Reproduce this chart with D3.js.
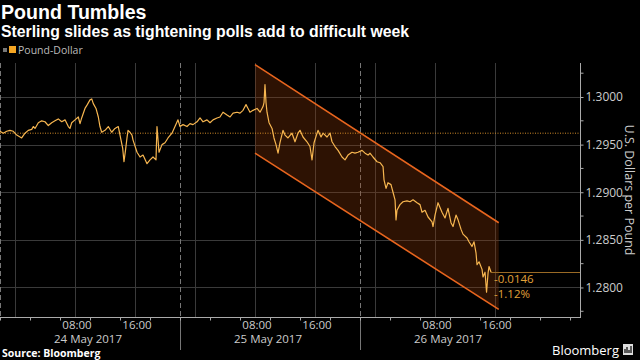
<!DOCTYPE html>
<html><head><meta charset="utf-8">
<script src="https://cdn.jsdelivr.net/npm/d3@7"></script>
<style>
html,body{margin:0;padding:0;background:#000;}
svg{display:block;}
text{font-family:"Open Sans",sans-serif;}
</style></head>
<body>
<script>
// ---- data ----
const title = "Pound Tumbles";
const subtitle = "Sterling slides as tightening polls add to difficult week";
const seriesName = "Pound-Dollar";
const axisTitle = "U.S. Dollars per Pound";
const source = "Source: Bloomberg";
// hours since 24 May 2017 00:00
const hours = [-2.00,-1.56,-1.11,-0.67,-0.23,0.23,0.67,0.89,1.33,1.77,2.23,2.44,2.67,3.11,3.56,4.00,4.44,4.89,5.33,5.77,
6.23,6.67,7.11,7.33,7.56,8.00,8.44,8.67,8.89,9.33,9.64,10.00,10.23,10.44,10.80,11.11,11.33,11.56,12.00,12.44,
12.89,13.33,13.77,14.00,14.36,14.53,14.73,14.93,15.07,15.33,15.60,15.73,16.27,16.67,17.07,17.60,18.00,18.40,18.80,18.93,
19.20,19.60,20.00,20.40,20.93,21.33,21.73,22.00,22.40,22.93,23.33,23.73,24.27,24.67,25.07,25.60,26.00,26.40,26.93,27.33,
27.73,28.27,28.67,29.07,29.60,30.00,30.40,30.80,31.07,31.33,31.73,32.27,32.67,33.07,33.20,33.33,33.47,33.60,33.87,34.27,
34.53,34.80,35.07,35.33,35.73,36.00,36.40,36.93,37.33,37.73,38.00,38.40,38.93,39.33,39.60,39.87,40.27,40.40,40.80,41.07,
41.60,42.00,42.27,42.67,43.07,43.60,44.00,44.40,44.93,45.33,45.73,46.27,46.67,47.07,47.33,47.73,48.27,48.67,49.07,49.20,
49.47,49.73,50.13,50.40,50.67,50.80,50.93,51.33,51.73,52.27,52.67,53.07,53.60,54.00,54.27,54.67,55.07,55.60,55.73,56.00,
56.40,56.93,57.33,57.73,58.13,58.40,58.80,59.07,59.47,59.73,60.27,60.53,60.93,61.20,61.47,61.60,61.87,62.27,62.40,62.67,
62.87,63.07,63.20,63.47];
const prices = [1.2964,1.2962,1.2964,1.2965,1.2964,1.2960,1.2958,1.2957,1.2962,1.2965,1.2966,1.2969,1.2967,1.2973,1.2975,1.2974,1.2970,1.2973,1.2975,1.2977,
1.2974,1.2976,1.2969,1.2967,1.2973,1.2976,1.2979,1.2972,1.2978,1.2988,1.2992,1.2997,1.2998,1.2993,1.2988,1.2979,1.2969,1.2963,1.2965,1.2969,
1.2963,1.2967,1.2969,1.2960,1.2946,1.2932,1.2944,1.2957,1.2965,1.2963,1.2960,1.2955,1.2942,1.2937,1.2939,1.2930,1.2934,1.2937,1.2934,1.2969,
1.2942,1.2950,1.2952,1.2957,1.2962,1.2969,1.2976,1.2969,1.2971,1.2969,1.2972,1.2971,1.2974,1.2978,1.2974,1.2976,1.2973,1.2976,1.2978,1.2979,
1.2984,1.2981,1.2979,1.2983,1.2984,1.2983,1.2986,1.2992,1.2988,1.2984,1.2986,1.2988,1.2984,1.2990,1.2994,1.3013,1.2994,1.2984,1.2973,1.2967,
1.2957,1.2950,1.2941,1.2952,1.2965,1.2960,1.2957,1.2962,1.2953,1.2962,1.2965,1.2958,1.2953,1.2948,1.2934,1.2952,1.2962,1.2965,1.2958,1.2962,
1.2958,1.2962,1.2953,1.2948,1.2944,1.2937,1.2934,1.2939,1.2942,1.2941,1.2942,1.2944,1.2941,1.2939,1.2941,1.2937,1.2932,1.2931,1.2927,1.2913,
1.2904,1.2910,1.2908,1.2900,1.2892,1.2871,1.2881,1.2887,1.2890,1.2891,1.2890,1.2892,1.2889,1.2887,1.2879,1.2881,1.2874,1.2869,1.2864,1.2876,
1.2889,1.2879,1.2873,1.2883,1.2868,1.2864,1.2876,1.2871,1.2861,1.2856,1.2852,1.2848,1.2843,1.2848,1.2836,1.2824,1.2827,1.2819,1.2811,1.2816,
1.2795,1.2815,1.2822,1.2816];
const refPrice = 1.2962;          // dotted reference line
const changeLabels = ["-0.0146", "-1.12%"];
const yTicks = [1.2800, 1.2850, 1.2900, 1.2950, 1.3000];
const yMinorTicks = [1.2775, 1.2825, 1.2875, 1.2925, 1.2975, 1.3025];
const timeLabelHours = [8, 16, 32, 40, 56, 64];
const gridHours = [0, 8, 16, 24, 32, 40, 48, 56, 64];
const tickHours = [-2,2,6,10,14,18,22,26,30,34,38,42,46,50,54,58,62,66,70,74];
const daySeparatorHours = [-2, 22, 46];
const dayLabels = ["24 May 2017", "25 May 2017", "26 May 2017"];
const dayLabelHours = [10, 34, 58];
// trend channel: [startHour, endHour], upper & lower line values
const channelHours = [32, 64.5];
const channelUpper = [1.3034, 1.2868];
const channelLower = [1.2941, 1.2777];

// ---- chart ----
const W = 640, H = 360;
const base = new Date(2017, 4, 24, 0, 0);
const toDate = h => new Date(base.getTime() + h * 3600e3);

const svg = d3.select("body").append("svg").attr("width", W).attr("height", H)
  .style("background", "#000");

const PL = 0, PR = 580, PT = 63, PB = 317;
const x = d3.scaleTime().domain([toDate(-2), toDate(75.33)]).range([PL, PR]);
const y = d3.scaleLinear().domain([1.2769, 1.30357]).range([PB, PT]);

// titles
svg.append("text").attr("x", 1).attr("y", 18.6).text(title)
  .style("font-family", "'Liberation Sans', Arial, sans-serif")
  .attr("fill", "#fff").attr("font-weight", "bold").attr("font-size", 19.6);
svg.append("text").attr("x", 1).attr("y", 37.4).text(subtitle)
  .style("font-family", "'Liberation Sans', Arial, sans-serif")
  .attr("fill", "#fff").attr("font-weight", "bold").attr("font-size", 15.8);

// legend
svg.append("rect").attr("x", 3).attr("y", 48).attr("width", 4).attr("height", 4).attr("fill", "#777");
svg.append("rect").attr("x", 9).attr("y", 46).attr("width", 7).attr("height", 7).attr("fill", "#f5a623");
svg.append("text").attr("x", 18).attr("y", 53.5).text(seriesName)
  .attr("fill", "#bbb").attr("font-size", 10.5);

const g = svg.append("g");

// horizontal grid
g.selectAll(".hg").data(yTicks).join("line")
  .attr("x1", PL).attr("x2", PR)
  .attr("y1", d => Math.round(y(d)) + 0.5).attr("y2", d => Math.round(y(d)) + 0.5)
  .attr("stroke", "#3a3a3a").attr("stroke-width", 1);
// vertical grid
g.selectAll(".vg").data(gridHours).join("line")
  .attr("x1", d => Math.round(x(toDate(d))) + 0.5).attr("x2", d => Math.round(x(toDate(d))) + 0.5)
  .attr("y1", PT).attr("y2", PB)
  .attr("stroke", "#3a3a3a").attr("stroke-width", 1);
// day separators (dashed in plot, solid below axis)
g.selectAll(".ds").data(daySeparatorHours).join("line")
  .attr("x1", d => Math.round(x(toDate(d))) + 0.5).attr("x2", d => Math.round(x(toDate(d))) + 0.5)
  .attr("y1", PT).attr("y2", PB)
  .attr("stroke", "#777").attr("stroke-width", 1).attr("stroke-dasharray", "5,3");
g.selectAll(".ds2").data(daySeparatorHours.slice(1)).join("line")
  .attr("x1", d => Math.round(x(toDate(d))) + 0.5).attr("x2", d => Math.round(x(toDate(d))) + 0.5)
  .attr("y1", PB).attr("y2", 350)
  .attr("stroke", "#777").attr("stroke-width", 1);

// channel
const chPoly = [
  [channelHours[0], channelUpper[0]], [channelHours[1], channelUpper[1]],
  [channelHours[1], channelLower[1]], [channelHours[0], channelLower[0]]
];
g.append("path")
  .attr("d", d3.line().x(d => x(toDate(d[0]))).y(d => y(d[1]))(chPoly) + "Z")
  .attr("fill", "rgba(150,60,10,0.3)");
[channelUpper, channelLower].forEach(c => {
  g.append("line")
    .attr("x1", x(toDate(channelHours[0]))).attr("y1", y(c[0]))
    .attr("x2", x(toDate(channelHours[1]))).attr("y2", y(c[1]))
    .attr("stroke", "#e8651e").attr("stroke-width", 1.6);
});

// reference dotted line
g.append("line").attr("x1", PL).attr("x2", PR)
  .attr("y1", y(refPrice)).attr("y2", y(refPrice))
  .attr("stroke", "#d08a28").attr("stroke-width", 1).attr("stroke-dasharray", "1,1.5");

// last value line
const lastH = hours[hours.length - 1], lastP = prices[prices.length - 1];
g.append("line").attr("x1", x(toDate(lastH))).attr("x2", PR)
  .attr("y1", Math.round(y(lastP)) + 0.5).attr("y2", Math.round(y(lastP)) + 0.5)
  .attr("stroke", "#9a6a25").attr("stroke-width", 1);

// price line
const pts = hours.map((h, i) => [toDate(h), prices[i]]);
g.append("path").datum(pts)
  .attr("d", d3.line().x(d => x(d[0])).y(d => y(d[1])))
  .attr("fill", "none").attr("stroke", "#f7b650").attr("stroke-width", 1.2)
  .attr("stroke-linejoin", "round");

// change labels
g.selectAll(".cl").data(changeLabels).join("text")
  .attr("x", x(toDate(lastH)) + 3).attr("y", (d, i) => 283 + i * 15)
  .text(d => d).attr("fill", "#e0a23a").attr("font-size", 11.5);

// right axis
const yAxis = d3.axisRight(y).tickValues(yTicks).tickFormat(d3.format(".4f")).tickSize(3).tickPadding(2);
const ya = svg.append("g").attr("transform", `translate(${PR + 0.5},0)`).call(yAxis);
ya.select(".domain").attr("d", `M0,${PT}V${PB + 1}`).attr("stroke", "#aaa");
ya.selectAll(".tick line").attr("stroke", "#aaa");
ya.selectAll(".tick text").attr("fill", "#ccc").attr("font-size", 12);
svg.append("g").attr("transform", `translate(${PR + 0.5},0)`)
  .selectAll("line").data(yMinorTicks).join("line")
  .attr("x1", 0).attr("x2", 3).attr("y1", d => y(d)).attr("y2", d => y(d)).attr("stroke", "#aaa");

// axis title
svg.append("text").attr("transform", `translate(625,190) rotate(90)`)
  .attr("text-anchor", "middle").attr("fill", "#ccc").attr("font-size", 12.5).text(axisTitle);

// bottom axis
const xAxis = d3.axisBottom(x).tickValues(tickHours.map(toDate)).tickSize(3).tickFormat("");
const xa = svg.append("g").attr("transform", `translate(0,${PB + 0.5})`).call(xAxis);
xa.select(".domain").attr("d", `M${PL},0H${PR + 1}`).attr("stroke", "#aaa");
xa.selectAll(".tick line").attr("stroke", "#aaa");
const fmt = d3.timeFormat("%H:%M");
svg.selectAll(".tl").data(timeLabelHours).join("text")
  .attr("x", d => x(toDate(d)) + 2).attr("y", 329).attr("text-anchor", "middle")
  .attr("fill", "#ccc").attr("font-size", 11.5).text(d => fmt(toDate(d)));
svg.selectAll(".dl").data(dayLabels).join("text")
  .attr("x", (d, i) => x(toDate(dayLabelHours[i])) - 2).attr("y", 342.5).attr("text-anchor", "middle")
  .attr("fill", "#ccc").attr("font-size", 11.5).text(d => d);

// source
svg.append("text").attr("x", 2).attr("y", 357).text(source)
  .attr("fill", "#fff").attr("font-weight", "bold").attr("font-size", 10.5);
// Bloomberg logo
svg.append("text").attr("x", 619).attr("y", 355).attr("text-anchor", "end").text("Bloomberg")
  .attr("fill", "#fff").attr("font-size", 13);
svg.append("rect").attr("x", 623).attr("y", 344).attr("width", 10).attr("height", 11).attr("fill", "#ddd");
svg.append("path").attr("d", "M625,353V349M627,353V347M629,353V350M631,353V346")
  .attr("stroke", "#000").attr("stroke-width", 1.2);
</script>
</body></html>
